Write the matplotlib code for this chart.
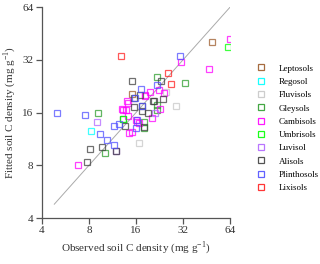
import matplotlib
matplotlib.use("Agg")
import matplotlib.pyplot as plt
from matplotlib.ticker import FixedLocator, NullLocator

plt.rcParams['font.family'] = ['Liberation Serif', 'DejaVu Serif']
plt.rcParams['mathtext.fontset'] = 'custom'
plt.rcParams['mathtext.rm'] = 'Liberation Serif'

# observed / fitted soil C density per soil group (mg g-1)
groups = ['Leptosols', 'Regosol', 'Fluvisols', 'Gleysols', 'Cambisols',
          'Umbrisols', 'Luvisol', 'Alisols', 'Plinthosols', 'Lixisols']
colors = ['#9C5B2B', '#00FFFF', '#C8C8C8', '#2E9E2E', '#FF00FF',
          '#00FF00', '#B266FF', '#404040', '#5050FF', '#FF2020']

obs = {
    'Leptosols': [49.3, 15.0],
    'Regosol': [8.3],
    'Fluvisols': [29.0, 16.8, 24.8, 11.9],
    'Gleysols': [9.1, 10.1, 21.9, 33.0, 21.9, 18.0, 18.0, 13.3, 21.7],
    'Cambisols': [63.7, 30.9, 46.9, 6.8, 14.1, 13.0, 13.8, 19.7, 22.6, 24.3,
                  18.3, 20.2, 14.5, 15.0, 16.0, 16.2, 14.3, 22.8, 16.8, 18.4,
                  13.3, 14.3],
    'Umbrisols': [61.8, 13.3],
    'Luvisol': [9.0, 21.1, 12.0],
    'Alisols': [7.73, 8.13, 9.74, 11.9, 13.7, 15.1, 15.6, 15.6, 17.5, 19.0,
                20.9, 23.9, 23.1, 17.0, 17.6, 20.5, 18.0],
    'Plinthosols': [5.02, 7.5, 9.41, 10.5, 11.6, 11.6, 12.4, 30.8, 17.2, 15.7,
                    16.0, 17.5, 21.9, 16.3],
    'Lixisols': [12.9, 25.8, 26.9],
}
fit = {
    'Leptosols': [40.6, 20.5],
    'Regosol': [12.5],
    'Fluvisols': [17.5, 10.7, 21.1, 9.6],
    'Gleysols': [16.0, 9.45, 25.4, 23.7, 17.7, 14.2, 13.0, 14.8, 16.6],
    'Cambisols': [42.0, 31.0, 28.3, 8.0, 18.7, 16.7, 16.6, 21.1, 21.4, 20.8,
                  20.2, 14.9, 12.3, 12.4, 14.5, 14.1, 18.2, 16.7, 13.9, 20.0,
                  16.6, 15.3],
    'Umbrisols': [37.8, 14.8],
    'Luvisol': [14.1, 16.0, 9.6],
    'Alisols': [8.39, 9.87, 10.2, 9.62, 13.4, 24.2, 17.2, 19.4, 17.5, 15.9,
                18.7, 19.2, 24.3, 20.2, 16.4, 18.6, 13.3],
    'Plinthosols': [16.0, 15.45, 12.0, 11.1, 10.5, 13.4, 13.8, 33.7, 21.7, 19.5,
                    13.0, 17.5, 23.0, 14.6],
    'Lixisols': [33.7, 27.0, 23.2],
}

line_1to1 = [4.8, 64]
ticks = [4, 8, 16, 32, 64]

fig = plt.figure(figsize=(3.2, 2.64), dpi=100)
ax = fig.add_axes([0.131, 0.174, 0.588, 0.799])

ax.plot(line_1to1, line_1to1, color='#AAAAAA', lw=0.7, zorder=1)

for g, c in zip(groups, colors):
    ax.plot(obs[g], fit[g], 's', ms=4.5, mfc='none', mec=c, mew=0.9,
            alpha=0.75, label=g, zorder=2)

ax.set_xscale('log', base=2)
ax.set_yscale('log', base=2)
ax.set_xlim(4, 64)
ax.set_ylim(4, 64)
ax.xaxis.set_major_locator(FixedLocator(ticks))
ax.yaxis.set_major_locator(FixedLocator(ticks))
ax.xaxis.set_minor_locator(NullLocator())
ax.yaxis.set_minor_locator(NullLocator())
ax.set_xticklabels([str(t) for t in ticks])
ax.set_yticklabels([str(t) for t in ticks])

for s in ['top', 'right']:
    ax.spines[s].set_visible(False)
for s in ['left', 'bottom']:
    ax.spines[s].set_color('#555555')
    ax.spines[s].set_linewidth(0.9)
ax.tick_params(direction='out', length=4, width=0.9, color='#555555',
               labelsize=8, labelcolor='#333333', pad=2)

ax.set_xlabel('Observed soil C density (mg g$^{-1}$)', fontsize=8,
              color='#333333', labelpad=3)
ax.set_ylabel('Fitted soil C density (mg g$^{-1}$)', fontsize=8,
              color='#333333', labelpad=3)

leg = fig.legend(loc='upper left', bbox_to_anchor=(0.79, 0.77), frameon=False,
                 fontsize=6.5, labelspacing=0.55, handletextpad=1.5,
                 handlelength=1.0, borderaxespad=0)
for h in leg.legend_handles:
    h.set_alpha(0.9)

fig.savefig('out.png', dpi=100)
